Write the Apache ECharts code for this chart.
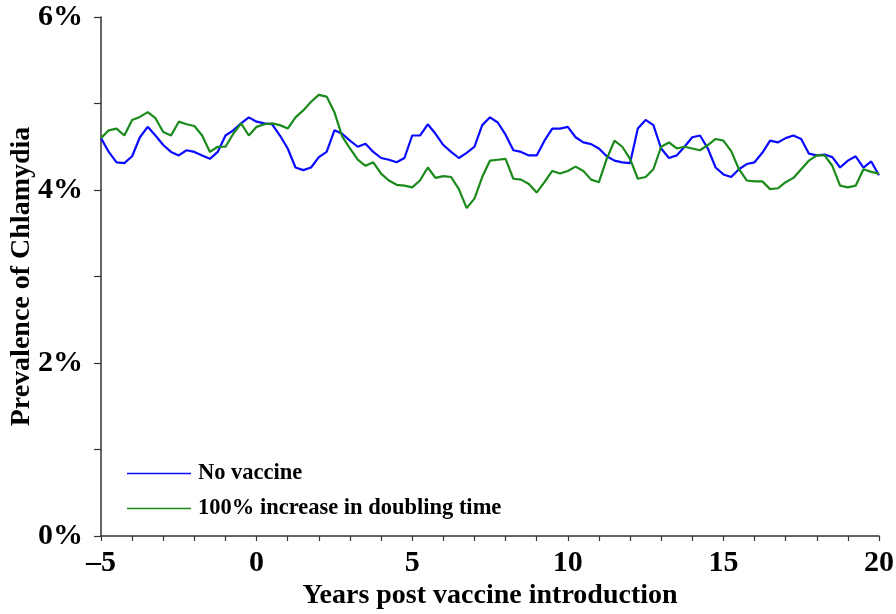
<!DOCTYPE html>
<html>
<head>
<meta charset="utf-8">
<script src="https://cdn.jsdelivr.net/npm/echarts@6/dist/echarts.min.js"></script>
<style>
html,body{margin:0;padding:0;background:#fff;}
#chart{width:896px;height:614px;}
</style>
</head>
<body>
<div id="chart"></div>
<script>
// Years post vaccine introduction, step 0.25
const years = [];
for (let k = 0; k <= 100; k++) years.push(-5 + 0.25 * k);

const noVaccine = [
4.60,4.44,4.32,4.31,4.39,4.61,4.73,4.63,4.52,4.44,4.40,4.46,4.44,4.40,4.36,4.44,4.63,
4.69,4.77,4.84,4.79,4.77,4.76,4.63,4.48,4.26,4.23,4.26,4.38,4.44,4.69,4.65,4.57,4.50,
4.535,4.44,4.37,4.35,4.32,4.37,4.63,4.63,4.76,4.65,4.52,4.44,4.37,4.43,4.50,4.75,4.84,
4.78,4.64,4.46,4.44,4.40,4.40,4.57,4.71,4.71,4.73,4.61,4.55,4.53,4.48,4.39,4.34,
4.32,4.31,4.71,4.81,4.75,4.48,4.37,4.40,4.50,4.61,4.63,4.48,4.26,4.18,4.15,4.24,4.30,
4.32,4.43,4.57,4.55,4.60,4.63,4.59,4.42,4.40,4.41,4.38,4.26,4.34,4.39,4.26,4.33,4.17
];

const doublingTime100 = [
4.60,4.69,4.71,4.63,4.81,4.845,4.90,4.83,4.67,4.63,4.79,4.76,4.74,4.63,4.44,4.50,4.50,
4.65,4.77,4.63,4.73,4.76,4.77,4.75,4.71,4.84,4.92,5.02,5.10,5.08,4.90,4.62,4.48,4.35,
4.28,4.32,4.19,4.11,4.06,4.05,4.03,4.11,4.26,4.14,4.16,4.15,4.01,3.79,3.90,4.15,4.34,
4.35,4.36,4.13,4.12,4.07,3.97,4.09,4.22,4.19,4.22,4.27,4.22,4.12,4.09,4.36,4.57,
4.50,4.36,4.13,4.15,4.24,4.50,4.55,4.48,4.50,4.48,4.46,4.52,4.59,4.57,4.45,4.24,4.11,
4.10,4.10,4.01,4.02,4.09,4.14,4.24,4.34,4.40,4.40,4.28,4.05,4.03,4.05,4.24,4.21,4.19
];

const seriesNames = ['No vaccine', '100% increase in doubling time'];
const xTickLabels = {'-5':'\u20135','0':'0','5':'5','10':'10','15':'15','20':'20'};
const yTickLabels = {'0':'0%','2':'2%','4':'4%','6':'6%'};

const FONT = "'Liberation Serif','Times New Roman',serif";
const chart = echarts.init(document.getElementById('chart'), null, {renderer:'canvas'});
chart.setOption({
  animation: false,
  backgroundColor: '#fff',
  grid: {left: 101, right: 17, top: 17, bottom: 78, containLabel: false, outerBoundsMode: 'none'},
  legend: {
    orient: 'vertical', left: 122, top: 457,
    itemWidth: 64, itemHeight: 1.6, itemGap: 12,
    icon: 'rect',
    textStyle: {fontFamily: FONT, fontWeight: 'bold', fontSize: 22.5, lineHeight: 22, color: '#000', padding: [0,0,0,2]},
    data: seriesNames
  },
  xAxis: {
    type: 'value', min: -5, max: 20, interval: 1,
    name: 'Years post vaccine introduction', nameLocation: 'middle', nameGap: 46, nameMoveOverlap: false,
    nameTextStyle: {fontFamily: FONT, fontWeight: 'bold', fontSize: 28, color: '#000'},
    axisLine: {show: true, onZero: false, lineStyle: {color: '#333', width: 1.5}},
    axisTick: {show: true, length: 5, lineStyle: {color: '#333', width: 1.2}},
    splitLine: {show: false},
    axisLabel: {
      fontFamily: FONT, fontWeight: 'bold', fontSize: 30, color: '#000', margin: 12,
      formatter: v => (xTickLabels[String(v)] !== undefined ? xTickLabels[String(v)] : '')
    }
  },
  yAxis: {
    type: 'value', min: 0, max: 6, interval: 1,
    name: 'Prevalence of Chlamydia', nameLocation: 'middle', nameGap: 65, nameMoveOverlap: false,
    nameTextStyle: {fontFamily: FONT, fontWeight: 'bold', fontSize: 28, color: '#000'},
    axisLine: {show: true, onZero: false, lineStyle: {color: '#333', width: 1.5}},
    axisTick: {show: true, length: 7, lineStyle: {color: '#333', width: 1.2}},
    splitLine: {show: false},
    axisLabel: {
      fontFamily: FONT, fontWeight: 'bold', fontSize: 30, color: '#000', margin: 18,
      formatter: v => (yTickLabels[String(v)] !== undefined ? yTickLabels[String(v)] : '')
    }
  },
  series: [
    {
      name: seriesNames[0], type: 'line', showSymbol: false, symbol: 'none',
      data: years.map((x, i) => [x, noVaccine[i]]),
      lineStyle: {color: '#0a0aff', width: 2.2}, itemStyle: {color: '#0a0aff'}
    },
    {
      name: seriesNames[1], type: 'line', showSymbol: false, symbol: 'none',
      data: years.map((x, i) => [x, doublingTime100[i]]),
      lineStyle: {color: '#1a8a1a', width: 2.2}, itemStyle: {color: '#1a8a1a'}
    }
  ]
});
</script>
</body>
</html>
